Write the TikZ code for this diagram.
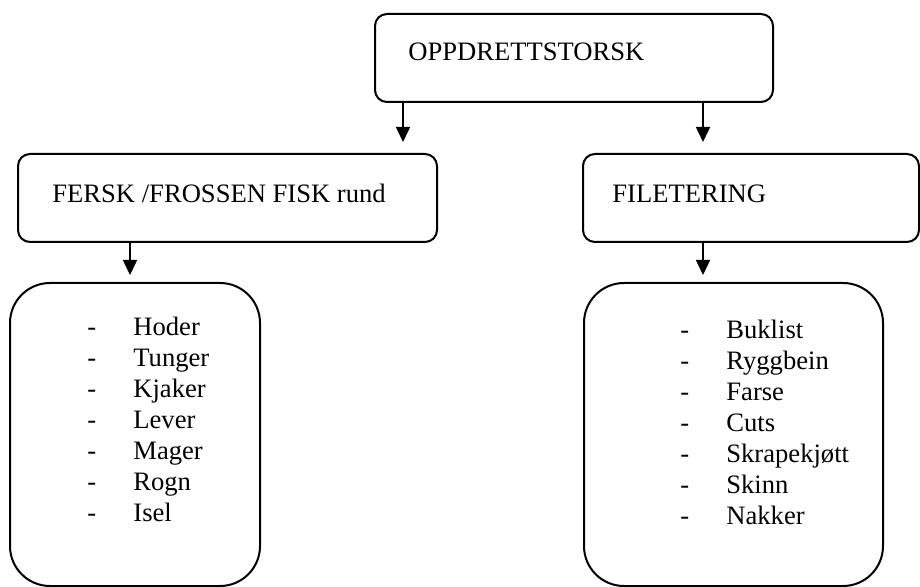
\documentclass[tikz,border=0pt]{standalone}
\usepackage{fontspec}
\setmainfont{Liberation Serif}
\usetikzlibrary{positioning, arrows.meta}

\tikzset{
    box/.style={draw, line width=1pt, rounded corners=6pt, inner sep=0pt},
    listbox/.style={draw, line width=1pt, rounded corners=20pt, inner sep=0pt},
    boxtext/.style={anchor=base west, inner sep=0pt, font=\fontsize{13.3}{15.5}\selectfont},
    listtext/.style={anchor=north west, inner sep=0pt, align=left, font=\fontsize{13.3}{15.5}\selectfont},
    arr/.style={line width=0.8pt, -{Triangle[length=7.5pt, width=7pt]}}
}
\newcommand{\itm}[1]{\makebox[23pt][l]{-}#1}

\begin{document}
\begin{tikzpicture}[x=0.5pt, y=-0.5pt]
    \useasboundingbox (0,0) rectangle (920,587);
    % boxes
    \node[box, minimum width=199pt, minimum height=44pt] (torsk) at (574,58) {};
    \node[box, minimum width=209.5pt, minimum height=44pt] (fersk) at (227.5,198) {};
    \node[box, minimum width=168pt, minimum height=44pt] (filet) at (751,198) {};
    \node[listbox, minimum width=125pt, minimum height=151.5pt] (rundlist) at (135,434.5) {};
    \node[listbox, minimum width=149.5pt, minimum height=151.5pt] (filetlist) at (733.5,434.5) {};
    % texts
    \node[boxtext] (torsktxt) at (408,61) {OPPDRETTSTORSK};
    \node[boxtext] (fersktxt) at (52,203) {FERSK /FROSSEN FISK rund};
    \node[boxtext] (filettxt) at (612,203) {FILETERING};
    \node[listtext] (rundtxt) at (87,316.8) {\itm{Hoder}\\ \itm{Tunger}\\ \itm{Kjaker}\\ \itm{Lever}\\ \itm{Mager}\\ \itm{Rogn}\\ \itm{Isel}};
    \node[listtext] (filettxt2) at (680,319.8) {\itm{Buklist}\\ \itm{Ryggbein}\\ \itm{Farse}\\ \itm{Cuts}\\ \itm{Skrapekjøtt}\\ \itm{Skinn}\\ \itm{Nakker}};
    % arrows
    \coordinate (a1) at (403,142);
    \coordinate (a2) at (703,142);
    \coordinate (a3) at (130,275);
    \coordinate (a4) at (703,275);
    \draw[arr] (a1 |- torsk.south) -- (a1);
    \draw[arr] (a2 |- torsk.south) -- (a2);
    \draw[arr] (a3 |- fersk.south) -- (a3);
    \draw[arr] (a4 |- filet.south) -- (a4);
\end{tikzpicture}
\end{document}
